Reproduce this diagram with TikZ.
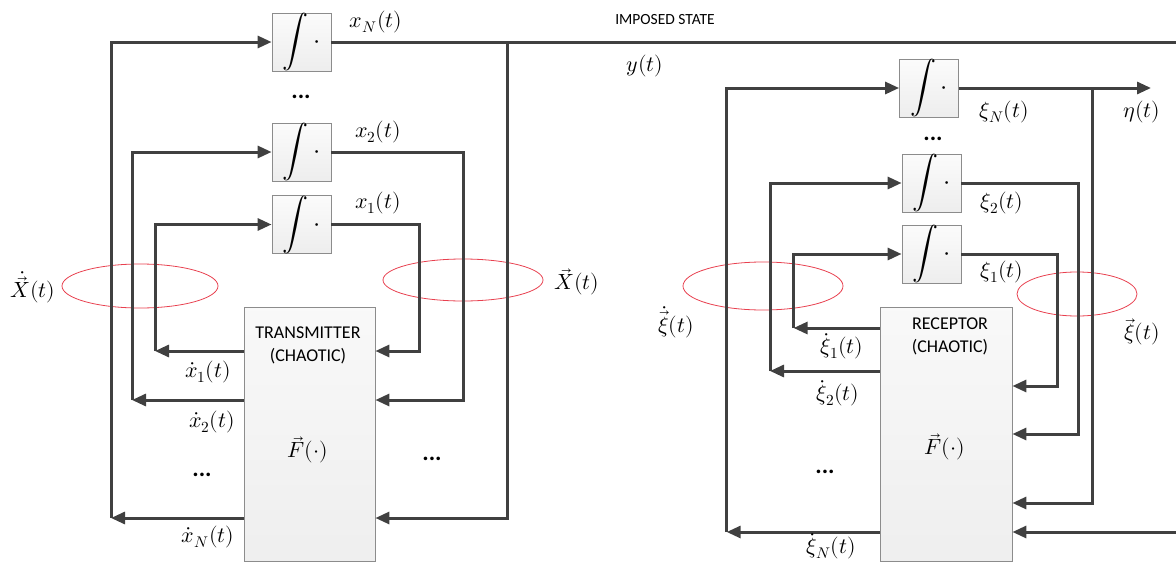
\documentclass[tikz,border=0pt]{standalone}
\usepackage{fontspec}
\usepackage{unicode-math}
\setmathfont{Latin Modern Math}
\newfontfamily\carl{Carlito}
\usetikzlibrary{arrows.meta}
\definecolor{lineclr}{HTML}{404040}
\definecolor{boxbd}{HTML}{8C8C8C}
\definecolor{ringred}{HTML}{E8404F}
\begin{document}
\begin{tikzpicture}[x=1pt,y=-1pt,
 conn/.style={line width=3pt, draw=lineclr},
 arr/.style={conn, -{Triangle[length=14pt,width=12pt]}},
 intbox/.style={draw=boxbd, line width=0.8pt, top color=gray!3, bottom color=gray!14, minimum width=59pt, minimum height=58pt, inner sep=0pt, font=\fontsize{26}{30}\selectfont},
 blockbox/.style={draw=boxbd, line width=0.8pt, top color=gray!5, bottom color=gray!13, minimum width=131pt, minimum height=254pt, inner sep=0pt},
 lab/.style={font=\fontsize{22}{26}\selectfont, inner sep=0pt},
 sans/.style={font=\carl\fontsize{18}{21}\selectfont, inner sep=0pt},
 dotsl/.style={font=\carl\bfseries\fontsize{24}{26}\selectfont, inner sep=0pt},
 ring/.style={draw=ringred, line width=0.8pt}]
\useasboundingbox (0,0) rectangle (1176,562);

% red rings
\draw[ring] (140,286) ellipse [x radius=78pt, y radius=22pt];
\draw[ring] (463,280) ellipse [x radius=80pt, y radius=21pt];
\draw[ring] (763,286) ellipse [x radius=80pt, y radius=24pt];
\draw[ring] (1077,294) ellipse [x radius=60pt, y radius=22pt];

% ---------- transmitter ----------
\node[intbox] (IN) at (301.5,42) {$\displaystyle\int\cdot$};
\node[intbox] (I2) at (301.5,152) {$\displaystyle\int\cdot$};
\node[intbox] (I1) at (301.5,224.5) {$\displaystyle\int\cdot$};
\node[blockbox] (TX) at (309.5,434) {};
\node[sans] (txt1) at (308,333) {TRANSMITTER};
\node[sans] (txt2) at (308,356) {(CHAOTIC)};
\node[lab] (F1) at (308,450) {$\vec{F}(\cdot)$};

\coordinate (aL1) at (155,351);
\coordinate (aL2) at (132,400);
\coordinate (aLN) at (111,518);
\coordinate (aR1) at (419.5,351);
\coordinate (aR2) at (463.5,400);
\coordinate (aRN) at (507.5,518);
\coordinate (edgeT) at (1176,42);

\draw[arr] (TX.west |- aL1) -- (aL1);
\draw[arr] (aL1) |- (I1.west);
\draw[arr] (TX.west |- aL2) -- (aL2);
\draw[arr] (aL2) |- (I2.west);
\draw[arr] (TX.west |- aLN) -- (aLN);
\draw[arr] (aLN) |- (IN.west);
\draw[arr] (I1.east) -| (aR1) -- (TX.east |- aR1);
\draw[arr] (I2.east) -| (aR2) -- (TX.east |- aR2);
\draw[conn] (IN.east) -- (edgeT);
\draw[arr] (IN.east -| aRN) -- (aRN) -- (TX.east |- aRN);

\node[lab] (xN) at (376,22) {$x_N(t)$};
\node[lab] (x2) at (378,132) {$x_2(t)$};
\node[lab] (x1) at (378,203) {$x_1(t)$};
\node[dotsl] (d1) at (301,97) {...};
\node[lab] (dx1) at (208,372) {$\dot{x}_1(t)$};
\node[lab] (dx2) at (212,422) {$\dot{x}_2(t)$};
\node[lab] (dxN) at (208,537) {$\dot{x}_N(t)$};
\node[dotsl] (d2) at (202,475) {...};
\node[dotsl] (d3) at (432,459) {...};
\node[lab] (dX) at (33,287) {$\dot{\vec{X}}(t)$};
\node[lab] (X) at (577,282) {$\vec{X}(t)$};
\node[font=\carl\fontsize{15.5}{18}\selectfont, inner sep=0pt] (imp) at (665,20) {IMPOSED STATE};
\node[lab] (y) at (645,66) {$y(t)$};

% ---------- receptor ----------
\node[intbox] (RN) at (929,88) {$\displaystyle\int\cdot$};
\node[intbox] (R2) at (931.5,183) {$\displaystyle\int\cdot$};
\node[intbox] (R1) at (931.5,254) {$\displaystyle\int\cdot$};
\node[blockbox, minimum width=132pt] (RX) at (946,434) {};
\node[sans] (rtxt1) at (950,324) {RECEPTOR};
\node[sans] (rtxt2) at (950,347) {(CHAOTIC)};
\node[lab] (F2) at (945,447) {$\vec{F}(\cdot)$};

\coordinate (bL1) at (793.6,328);
\coordinate (bL2) at (770,371);
\coordinate (bLN) at (726.7,532);
\coordinate (bR1) at (1057,386);
\coordinate (bR2) at (1078.7,434);
\coordinate (bRN) at (1092,503);
\coordinate (edgeB) at (1176,532);
\coordinate (etaEnd) at (1151,88);

\draw[arr] (RX.west |- bL1) -- (bL1);
\draw[arr] (bL1) |- (R1.west);
\draw[arr] (RX.west |- bL2) -- (bL2);
\draw[arr] (bL2) |- (R2.west);
\draw[arr] (RX.west |- bLN) -- (bLN);
\draw[arr] (bLN) |- (RN.west);
\draw[arr] (R1.east) -| (bR1) -- (RX.east |- bR1);
\draw[arr] (R2.east) -| (bR2) -- (RX.east |- bR2);
\draw[arr] (RN.east) -- (etaEnd);
\draw[arr] (RN.east -| bRN) -- (bRN) -- (RX.east |- bRN);
\draw[arr] (edgeB) -- (RX.east |- edgeB);

\node[lab] (xiN) at (1004,112) {$\xi_N(t)$};
\node[lab] (eta) at (1142,112) {$\eta(t)$};
\node[lab] (xi2) at (1002,203) {$\xi_2(t)$};
\node[lab] (xi1) at (1002,272) {$\xi_1(t)$};
\node[dotsl] (d4) at (933,139) {...};
\node[lab] (dxi1) at (842,346) {$\dot{\xi}_1(t)$};
\node[lab] (dxi2) at (838,393) {$\dot{\xi}_2(t)$};
\node[lab] (dxiN) at (831,546) {$\dot{\xi}_N(t)$};
\node[dotsl] (d5) at (825,472) {...};
\node[lab] (dXi) at (676,322) {$\dot{\vec{\xi}}(t)$};
\node[lab] (Xi) at (1142,332) {$\vec{\xi}(t)$};
\end{tikzpicture}
\end{document}
